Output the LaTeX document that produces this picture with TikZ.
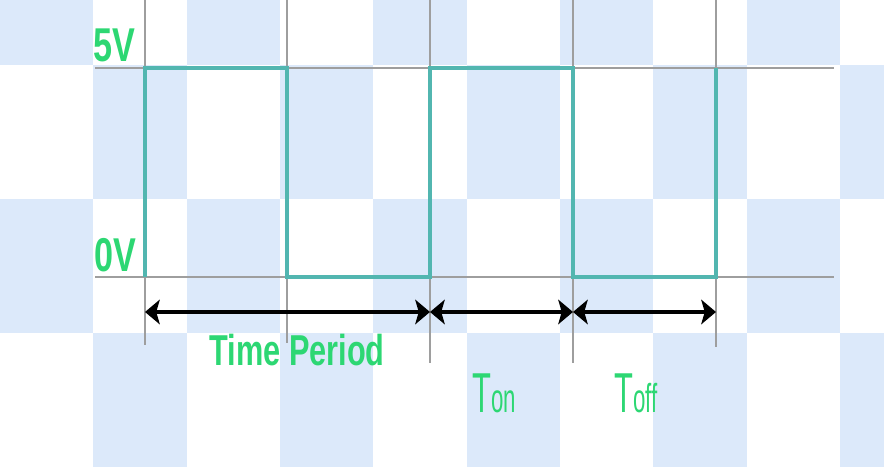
\documentclass[tikz,border=0pt]{standalone}
\usepackage{fontspec}
\setmainfont{Liberation Sans}
\usetikzlibrary{arrows.meta,positioning}
\definecolor{chkblue}{RGB}{220,233,250}
\definecolor{wavecol}{RGB}{82,182,176}
\definecolor{lblgreen}{RGB}{45,215,115}

\begin{document}
\begin{tikzpicture}[x=0.01cm,y=-0.01cm,
  grid/.style={draw=black!38, line width=0.45pt},
  wave/.style={draw=wavecol, line width=1.4pt, line join=miter},
  dim/.style={{Stealth[length=4.2pt,width=7pt,inset=1pt]}-{Stealth[length=4.2pt,width=7pt,inset=1pt]}, line width=1.4pt, black},
  lbl/.style={text=lblgreen, inner sep=0pt, transform shape}]
\useasboundingbox (0,0) rectangle (884,468);
% Checkered background
\begin{scope}
\clip (0,0) rectangle (884,468);
\foreach \r/\s in {0/0,1/1,2/0,3/1} {
  \foreach \c in {0,2,4,6,8} {
    \fill[chkblue] ({(\c+\s)*93.33},{65+134*(\r-1)}) rectangle +(93.33,134);
  }
}
\end{scope}
% Level lines and edge markers
\draw[grid] (95,68) -- (834,68);
\draw[grid] (95,277) -- (834,277);
\foreach \x/\yb in {145/345,287/343,430/363,573/363,716/347} {
  \draw[grid] (\x,0) -- (\x,\yb);
}
% Square wave
\draw[wave] (145,277) -- (145,68) -- (287,68) -- (287,277) -- (430,277)
  -- (430,68) -- (573,68) -- (573,277) -- (716,277) -- (716,68);
% Level labels
\node[lbl, font=\bfseries\fontsize{13.5}{14}\selectfont, xscale=0.72, anchor=base] (lbl5v) at (114,62) {5V};
\node[lbl, font=\bfseries\fontsize{13.5}{14}\selectfont, xscale=0.72, anchor=base] (lbl0v) at (115,272) {0V};
% Time markers
\coordinate (t0) at (145,312);
\coordinate (t1) at (430,312);
\coordinate (t2) at (573,312);
\coordinate (t3) at (716,312);
\draw[dim] (t0) -- (t1);
\draw[dim] (t1) -- (t2);
\draw[dim] (t2) -- (t3);
\node[lbl, font=\bfseries\fontsize{12.3}{13}\selectfont, xscale=0.71, anchor=base] (period) at (297,366) {Time Period};
\node[lbl, font=\fontsize{16}{17}\selectfont, xscale=0.55, anchor=base west] (ton) at (472,413) {T{\fontsize{11.5}{12}\selectfont on}};
\node[lbl, font=\fontsize{16}{17}\selectfont, xscale=0.55, anchor=base west] (toff) at (614,413) {T{\fontsize{11.5}{12}\selectfont off}};
\end{tikzpicture}
\end{document}
